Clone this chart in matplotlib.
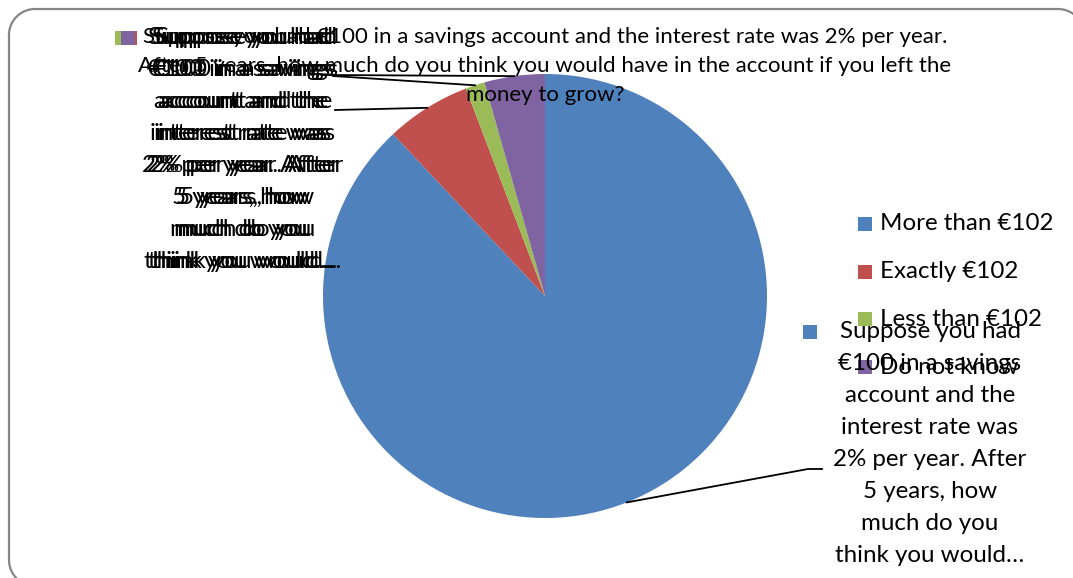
import numpy as np
import matplotlib.pyplot as plt
from matplotlib.patches import Rectangle

plt.rcParams['font.family'] = ['Lato', 'DejaVu Sans']

# ---- data ----
categories = ['More than €102', 'Exactly €102', 'Less than €102', 'Do not know']
shares = [88.0, 6.2, 1.4, 4.4]
colors = ['#4F81BD', '#C0504D', '#9BBB59', '#8064A2']

title_lines = [
    'Suppose you had €100 in a savings account and the interest rate was 2% per year.',
    'After 5 years, how much do you think you would have in the account if you left the',
    'money to grow?',
]
series_label = ['Suppose you had', '€100 in a savings', 'account and the',
                'interest rate was', '2% per year. After', '5 years, how',
                'much do you', 'think you would…']

# ---- layout (pixels, y down) ----
W, H = 1073, 578
FS = 17.4        # labels and legend
FS_TITLE = 16
cx, cy, r = 545, 296, 222

fig = plt.figure(figsize=(W / 100, H / 100), dpi=100)
ax = fig.add_axes([0, 0, 1, 1])

# y axis is flipped below, so counterclock in data = clockwise on screen
wedges, _ = ax.pie(shares, colors=colors, startangle=-90, counterclock=True,
                   center=(cx, cy), radius=r)
ax.set_xlim(0, W)
ax.set_ylim(H, 0)
ax.set_aspect('auto')
ax.axis('off')

# mid angle of each slice, where the leader lines attach
cum = np.cumsum([0] + shares[:-1])
mid = np.deg2rad(-90 + 3.6 * (cum + np.array(shares) / 2))
edge_pts = [(cx + r * np.cos(a), cy + r * np.sin(a)) for a in mid]


def rounded_rect(x0, y0, x1, y1, rad, n=20):
    # corners in order: top-left, top-right, bottom-right, bottom-left
    xs, ys = [], []
    corners = [(x0 + rad, y0 + rad, 180, 270), (x1 - rad, y0 + rad, 270, 360),
               (x1 - rad, y1 - rad, 0, 90), (x0 + rad, y1 - rad, 90, 180)]
    for ccx, ccy, a0, a1 in corners:
        t = np.deg2rad(np.linspace(a0, a1, n))
        xs.extend(ccx + rad * np.cos(t))
        ys.extend(ccy + rad * np.sin(t))
    xs.append(xs[0])
    ys.append(ys[0])
    return xs, ys


# chart frame, runs off the right and bottom edges
fx, fy = rounded_rect(9, 9, 1084, 586, 26)
ax.plot(fx, fy, color='#868686', lw=1.6)

# title
for i, line in enumerate(title_lines):
    ax.text(cx, 37 + i * 29, line, ha='center', va='center', fontsize=FS_TITLE)


def data_label(xc, y0, color, key_x):
    ax.add_patch(Rectangle((key_x, y0 - 7), 14, 14, fc=color, ec='none'))
    for k, line in enumerate(series_label):
        ax.text(xc, y0 + k * 32, line, ha='center', va='center', fontsize=FS)


# red, green and purple labels pile up at the top left
data_label(247, 38, colors[1], 123)
data_label(239, 38, colors[2], 115)
data_label(243, 38, colors[3], 121)
# blue label at bottom right
data_label(930, 332, colors[0], 803)

# leader lines
lw = 1.3
ax.plot([335, edge_pts[1][0]], [110, edge_pts[1][1]], color='black', lw=lw)
ax.plot([333, edge_pts[2][0]], [76, edge_pts[2][1]], color='black', lw=lw)
ax.plot([330, edge_pts[3][0]], [75, edge_pts[3][1]], color='black', lw=lw)
ax.plot([822, 808, edge_pts[0][0]], [469, 469, edge_pts[0][1]],
        color='black', lw=lw)

# legend
for i, (name, col) in enumerate(zip(categories, colors)):
    y = 224 + i * 47.7
    ax.add_patch(Rectangle((858, y - 7), 14, 14, fc=col, ec='none'))
    ax.text(880, y, name, ha='left', va='center', fontsize=FS)

fig.savefig('out.png', dpi=100)
